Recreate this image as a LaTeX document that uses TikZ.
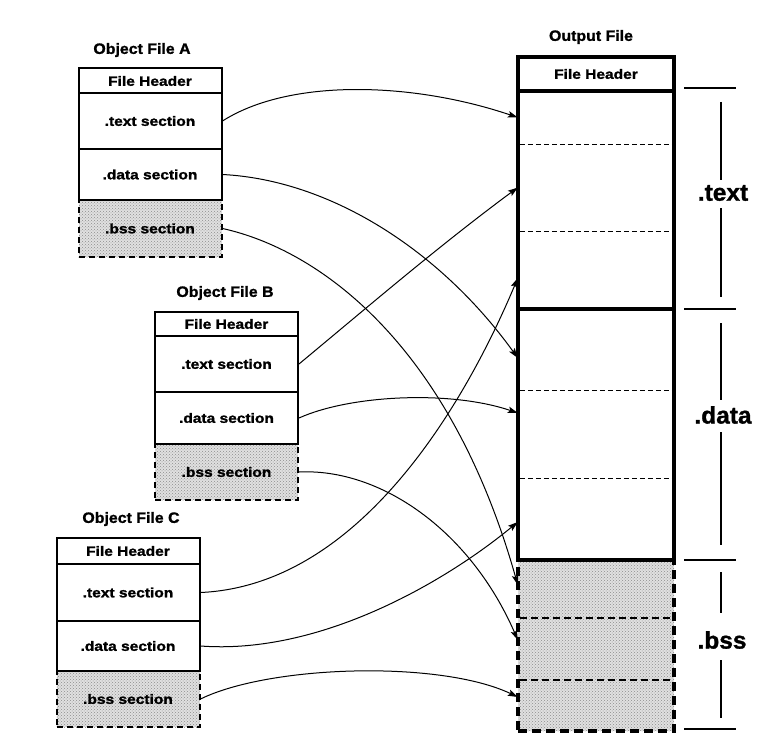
\documentclass[tikz,border=0pt]{standalone}
\usepackage{fontspec}
\setmainfont{Liberation Sans}
\newfontfamily\titlef{Liberation Sans}[FakeStretch=1.06,FakeBold=1.2]
\newfontfamily\boxf{Liberation Sans}[FakeStretch=1.15,FakeBold=1.5]
\newfontfamily\bigf{Liberation Sans}[FakeStretch=1.02,FakeBold=1.2]
\usetikzlibrary{arrows.meta,patterns}
\begin{document}
\begin{tikzpicture}[x=1pt,y=-1pt,
  ttl/.style={font=\titlef\bfseries\fontsize{15}{18}\selectfont, inner sep=0pt},
  sec/.style={draw, line width=2pt, minimum width=143pt, inner sep=0pt,
    font=\boxf\bfseries\fontsize{13.5}{16}\selectfont},
  bsssec/.style={sec, dash pattern=on 6pt off 4pt, preaction={fill=black!12},
    pattern=crosshatch dots, pattern color=black!45},
  oreg/.style={draw, line width=3.5pt, minimum width=156pt, inner sep=0pt,
    font=\boxf\bfseries\fontsize{13.5}{16}\selectfont},
  obss/.style={oreg, dash pattern=on 9pt off 5pt, preaction={fill=black!12},
    pattern=crosshatch dots, pattern color=black!45},
  slot/.style={draw=none, minimum width=156pt, inner sep=0pt},
  sepl/.style={line width=1.2pt, dash pattern=on 5pt off 3pt},
  sepb/.style={line width=1.8pt, dash pattern=on 7pt off 4pt},
  conn/.style={line width=1pt, -{Stealth[length=10pt,width=6.5pt,inset=2pt]}},
  tick/.style={line width=1.5pt},
  vbar/.style={line width=1.3pt},
  big/.style={font=\bigf\bfseries\fontsize{24}{28}\selectfont, inner sep=0pt}
]
\useasboundingbox (0,0) rectangle (762,738);

% ---------- Object File A ----------
\node[ttl] (tA) at (142,50) {Object File A};
\node[bsssec, minimum height=57pt] (Ab) at (150,228.5) {.bss section};
\node[sec, minimum height=25pt] (Ah) at (150,81) {File Header};
\node[sec, minimum height=56pt] (At) at (150,121) {.text section};
\node[sec, minimum height=51pt] (Ad) at (150,174.5) {.data section};

% ---------- Object File B ----------
\node[ttl] (tB) at (225,293) {Object File B};
\node[bsssec, minimum height=56pt] (Bb) at (226.5,472) {.bss section};
\node[sec, minimum height=24pt] (Bh) at (226.5,324) {File Header};
\node[sec, minimum height=56pt] (Bt) at (226.5,364) {.text section};
\node[sec, minimum height=52pt] (Bd) at (226.5,418) {.data section};

% ---------- Object File C ----------
\node[ttl] (tC) at (131,519) {Object File C};
\node[bsssec, minimum height=56pt] (Cb) at (128,699) {.bss section};
\node[sec, minimum height=26pt] (Ch) at (128,551) {File Header};
\node[sec, minimum height=57pt] (Ct) at (128,592.5) {.text section};
\node[sec, minimum height=50pt] (Cd) at (128,646) {.data section};

% ---------- Output File ----------
\node[ttl] (tO) at (591,37) {Output File};
\node[obss, minimum height=171pt] (Ob) at (596,645.5) {};
\node[oreg, minimum height=34pt] (Oh) at (596,74) {File Header};
\node[oreg, minimum height=218pt] (Ot) at (596,200) {};
\node[oreg, minimum height=251pt] (Od) at (596,434.5) {};

\node[slot, minimum height=53pt] (ot1) at (596,117.5) {};
\node[slot, minimum height=87pt] (ot2) at (596,187.5) {};
\node[slot, minimum height=78pt] (ot3) at (596,270) {};
\node[slot, minimum height=81pt] (od1) at (596,349.5) {};
\node[slot, minimum height=88pt] (od2) at (596,434) {};
\node[slot, minimum height=82pt] (od3) at (596,519) {};
\node[slot, minimum height=58pt] (ob1) at (596,589) {};
\node[slot, minimum height=62pt] (ob2) at (596,649) {};
\node[slot, minimum height=51pt] (ob3) at (596,705.5) {};

\draw[sepl] ([xshift=2pt]ot1.south west) -- ([xshift=-2pt]ot1.south east);
\draw[sepl] ([xshift=2pt]ot2.south west) -- ([xshift=-2pt]ot2.south east);
\draw[sepl] ([xshift=2pt]od1.south west) -- ([xshift=-2pt]od1.south east);
\draw[sepl] ([xshift=2pt]od2.south west) -- ([xshift=-2pt]od2.south east);
\draw[sepb] ([xshift=2pt]ob1.south west) -- ([xshift=-2pt]ob1.south east);
\draw[sepb] ([xshift=2pt]ob2.south west) -- ([xshift=-2pt]ob2.south east);

% ---------- Brackets ----------
\node[big] (Lt) at (723,193) {.text};
\node[big] (Ld) at (723,415) {.data};
\node[big] (Lb) at (722,640) {.bss};
\draw[tick] (684,88) -- (736,88);
\draw[tick] (684,309) -- (736,309);
\draw[tick] (684,560) -- (736,560);
\draw[tick] (684,729) -- (736,729);
\draw[vbar] (721,102) -- (721,180);
\draw[vbar] (721,208) -- (721,297);
\draw[vbar] (721,323) -- (721,400);
\draw[vbar] (721,432) -- (721,545);
\draw[vbar] (721,572) -- (721,613);
\draw[vbar] (721,660) -- (721,718);

% ---------- Connectors ----------
\draw[conn] (At.east) .. controls (290,78) and (413,82) .. (ot1.west);
\draw[conn] (Ad.east) .. controls (330,180) and (440,250) .. ([yshift=-8.5pt]od1.west);
\draw[conn] (Ab.east) .. controls (320,250) and (450,345) .. ([yshift=4pt]ob1.west);
\draw[conn] (Bt.east) .. controls (370,305) and (440,245) .. (ot2.west);
\draw[conn] (Bd.east) .. controls (350,395) and (450,390) .. ([yshift=21pt]od2.west);
\draw[conn] (Bb.east) .. controls (380,468) and (470,530) .. ([yshift=9pt]ob2.west);
\draw[conn] (Ct.east) .. controls (370,585) and (475,380) .. ([yshift=-8pt]ot3.west);
\draw[conn] (Cd.east) .. controls (320,655) and (445,582) .. ([yshift=-3pt]od3.west);
\draw[conn] (Cb.east) .. controls (270,665) and (440,660) .. ([yshift=8.5pt]ob3.west);
\end{tikzpicture}
\end{document}
